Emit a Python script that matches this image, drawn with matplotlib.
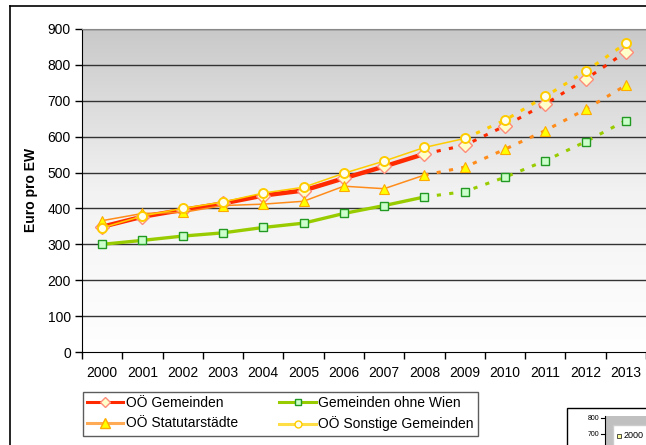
import matplotlib
matplotlib.use("Agg")
import matplotlib.pyplot as plt
import numpy as np
from matplotlib.lines import Line2D
from matplotlib.patches import Rectangle
from matplotlib.colors import LinearSegmentedColormap

years = ["2000", "2001", "2002", "2003", "2004", "2005", "2006",
         "2007", "2008", "2009", "2010", "2011", "2012", "2013"]
ooe_gemeinden = [349, 377, 396, 414, 436, 450, 484, 517, 552, 576, 630, 691, 760, 836]
ohne_wien = [300, 311, 323, 332, 347, 359, 386, 408, 432, 447, 487, 533, 586, 645]
statutar = [366, 386, 389, 408, 412, 420, 462, 455, 493, 515, 565, 617, 676, 743]
sonstige = [346, 379, 400, 418, 443, 459, 498, 532, 570, 595, 646, 712, 782, 860]
yticks = [0, 100, 200, 300, 400, 500, 600, 700, 800, 900]

plt.rcParams['font.family'] = ['Liberation Sans', 'DejaVu Sans']
plt.rcParams['lines.scale_dashes'] = False

W, H = 646, 445
fig = plt.figure(figsize=(W / 100, H / 100), dpi=100)

def fx(x):
    return x / W

def fy(y):
    return 1 - y / H

# outer frame of the chart object
fig.add_artist(Line2D([fx(10), fx(10)], [fy(6), fy(446)], color='black', lw=1.2))
fig.add_artist(Line2D([fx(10), fx(647)], [fy(6), fy(6)], color='black', lw=1.2))

left, top, bottom, right = 82, 29, 352, 646
ax = fig.add_axes([fx(left), fy(bottom), (right - left) / W, (bottom - top) / H])

x = np.arange(len(years))
ax.set_xlim(-0.5, len(years) - 0.5)
ax.set_ylim(0, 900)

# gradient background
grad = np.linspace(0, 1, 256).reshape(-1, 1)
cmap = LinearSegmentedColormap.from_list('g', ['#ffffff', '#f2f2f2', '#c9c9c9'])
ax.imshow(grad, extent=[-0.5, len(years) - 0.5, 0, 900], origin='lower',
          aspect='auto', cmap=cmap, zorder=0)

for v in yticks[1:]:
    ax.axhline(v, color='#333333', lw=1.0, zorder=1)

def series(vals, split, color, lw, dlw, marker, ms, mfc, mec, mew, z):
    xs = x[:split + 1]
    ax.plot(xs, vals[:split + 1], color=color, lw=lw, solid_capstyle='butt', zorder=z)
    ax.plot(x[split:], vals[split:], color=color, lw=dlw,
            linestyle=(0, (3.0, 6.0)), dash_capstyle='butt', zorder=z)
    ax.plot(x, vals, linestyle='none', marker=marker, ms=ms, mfc=mfc, mec=mec,
            mew=mew, zorder=z + 0.5)

series(ooe_gemeinden, 8, '#ff2a00', 3.2, 2.2, 'D', 6.8, '#ffffcc', '#ff8c7a', 1.0, 3)
series(ohne_wien, 8, '#99cc00', 2.4, 2.2, 's', 5.5, '#ccffcc', '#229922', 1.0, 2)
series(statutar, 8, '#ff8c1a', 1.1, 2.2, '^', 7.5, '#ffff00', '#ffaa00', 0.8, 4)
series(sonstige, 9, '#ffcc00', 1.1, 2.2, 'o', 6.5, '#ffffee', '#ffcc00', 1.4, 5)

ax.set_yticks(yticks)
ax.set_yticklabels([str(v) for v in yticks], fontsize=10)
ax.set_xticks(x)
ax.set_xticklabels(years, fontsize=10)
ax.set_xticks(np.arange(-0.5, len(years), 1.0), minor=True)
ax.tick_params(axis='x', which='major', length=0, pad=10)
ax.tick_params(axis='x', which='minor', length=5, width=1, color='black', direction='out')
ax.tick_params(axis='y', length=5, width=1, color='black', direction='out', pad=3)

ax.spines['right'].set_visible(False)
ax.spines['top'].set_color('#888888')
ax.spines['left'].set_color('black')
ax.spines['bottom'].set_color('black')

fig.text(fx(31), fy(190), 'Euro pro EW', rotation=90, fontsize=10,
         fontweight='bold', ha='center', va='center')

# legend
handles = [
    Line2D([], [], color='#ff2a00', lw=2.2, marker='D', ms=5, mfc='#ffffcc', mec='#ff8c7a'),
    Line2D([], [], color='#ffaa55', lw=2.2, marker='^', ms=6.5, mfc='#ffff00', mec='#ffaa00'),
    Line2D([], [], color='#99cc00', lw=2.2, marker='s', ms=4.5, mfc='#ccffcc', mec='#229922'),
    Line2D([], [], color='#ffdd44', lw=2.2, marker='o', ms=5, mfc='#ffffee', mec='#ffcc00'),
]
labels = ['OÖ Gemeinden', 'OÖ Statutarstädte', 'Gemeinden ohne Wien', 'OÖ Sonstige Gemeinden']
leg = fig.legend(handles, labels, loc='upper left', ncol=2, mode='expand',
                 bbox_to_anchor=(fx(83), fy(440), fx(478) - fx(83), fy(392) - fy(440)),
                 fontsize=10, frameon=True, fancybox=False, edgecolor='#333333',
                 handlelength=2.6, handletextpad=0.2, borderpad=0.3,
                 labelspacing=0.45, borderaxespad=0, columnspacing=1.0)
leg.get_frame().set_linewidth(1.0)

# partially visible second chart in the lower right corner
fig.add_artist(Rectangle((fx(567), fy(450)), fx(90), (450 - 408) / H, facecolor='white',
                         edgecolor='black', lw=1.0))
fig.add_artist(Rectangle((fx(606), fy(450)), fx(50), (450 - 416) / H, facecolor='#c0c0c0',
                         edgecolor='none'))
fig.add_artist(Rectangle((fx(613), fy(450)), fx(45), (450 - 425) / H, facecolor='white',
                         edgecolor='#cccccc', lw=1.0))
fig.add_artist(Line2D([fx(605), fx(605)], [fy(416), fy(446)], color='black', lw=0.8))
for yy, lab in [(418, '800'), (434, '700')]:
    fig.add_artist(Line2D([fx(601), fx(605)], [fy(yy), fy(yy)], color='black', lw=0.8))
    fig.text(fx(599), fy(yy), lab, fontsize=5, ha='right', va='center')
fig.add_artist(Line2D([fx(619)], [fy(436)], marker='s', ms=3, mfc='#ffff99',
                      mec='#333333', mew=0.6, linestyle='none'))
fig.text(fx(623.5), fy(436), '2000', fontsize=6.5, ha='left', va='center')

fig.savefig('out.png', dpi=100)
